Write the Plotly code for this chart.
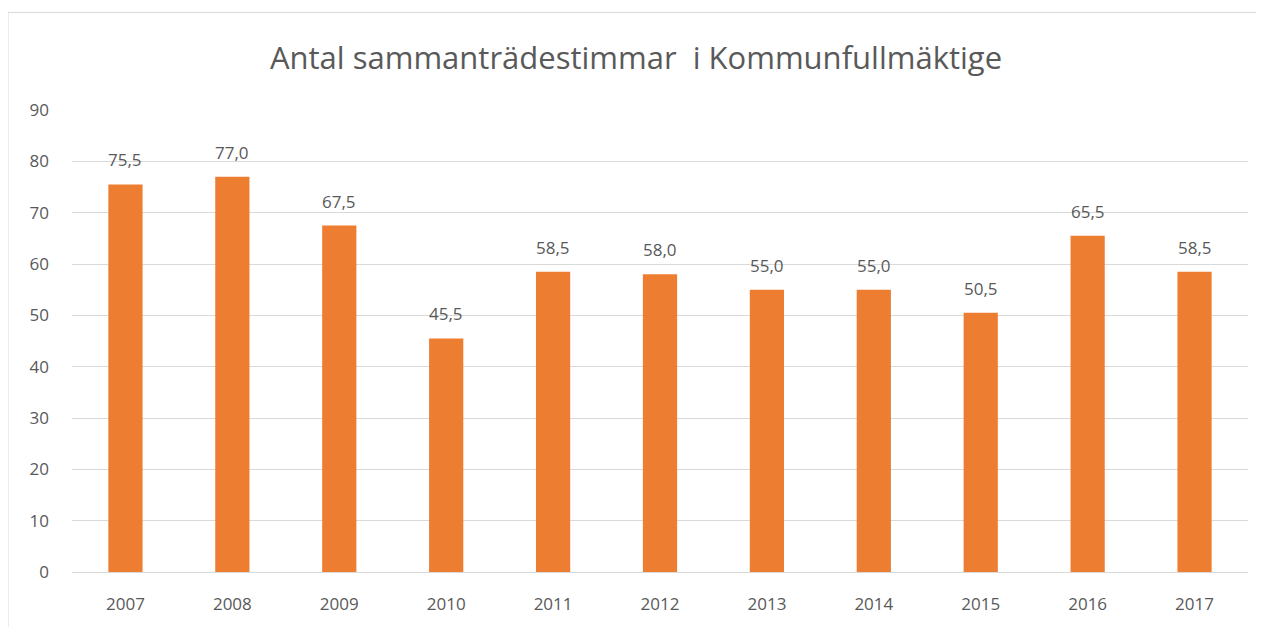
import plotly.graph_objects as go

years = ["2007", "2008", "2009", "2010", "2011", "2012", "2013", "2014", "2015", "2016", "2017"]
hours = [75.5, 77.0, 67.5, 45.5, 58.5, 58.0, 55.0, 55.0, 50.5, 65.5, 58.5]
labels = [f"{v:.1f}".replace(".", ",") for v in hours]
title = "Antal sammanträdestimmar  i Kommunfullmäktige"

FONT = "Open Sans"
GRAY = "#595959"

fig = go.Figure(go.Bar(
    x=years, y=hours,
    marker=dict(color="#ED7D31", line=dict(width=0)),
))

for i, (v, lab) in enumerate(zip(hours, labels)):
    fig.add_annotation(x=i, y=v, text=lab, showarrow=False, yanchor="bottom",
                       yshift=11, font=dict(family=FONT, size=17, color=GRAY))

fig.update_layout(
    width=1256, height=619,
    margin=dict(l=64, r=16, t=102, b=53),
    paper_bgcolor="white", plot_bgcolor="white",
    bargap=0.68,
    showlegend=False,
    title=dict(text=title, x=0.5, xanchor="center", y=1 - 50/619, yanchor="middle",
               font=dict(family=FONT, size=31, color=GRAY)),
    xaxis=dict(type="category", range=[-0.5, len(years) - 0.5], autorange=False,
               showgrid=False, showline=True, linecolor="#D9D9D9", linewidth=1,
               ticks="", ticklabelstandoff=17,
               tickfont=dict(family=FONT, size=17, color=GRAY)),
    yaxis=dict(range=[0, 90], autorange=False, dtick=10, showgrid=True, gridcolor="#D9D9D9", gridwidth=1,
               zeroline=False, showline=False, ticks="", ticklabelstandoff=22,
               tickfont=dict(family=FONT, size=17, color=GRAY)),
)

fig.add_shape(type="rect", xref="paper", yref="paper",
              x0=(8 - 72) / 1176, x1=1.1, y0=-0.3, y1=(574 - 12) / 464,
              line=dict(color="#D9D9D9", width=1), fillcolor="rgba(0,0,0,0)", layer="below")

fig.write_html("out.html")
